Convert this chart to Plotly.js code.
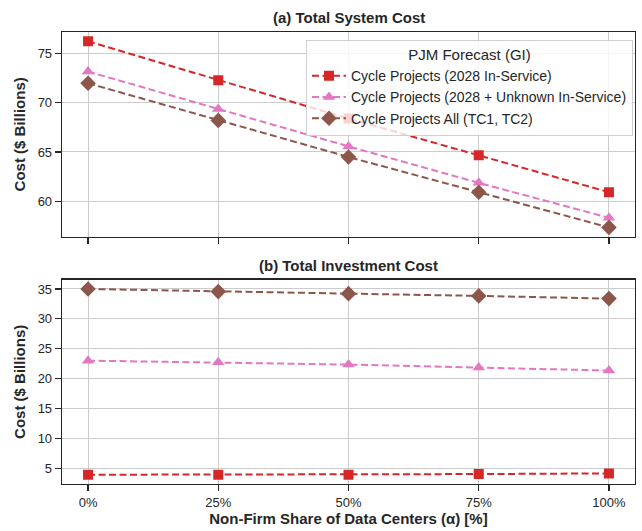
<!DOCTYPE html>
<html>
<head>
<meta charset="utf-8">
<script src="https://cdn.plot.ly/plotly-3.0.1.min.js"></script>
<style>html,body{margin:0;padding:0;background:#fff;}#chart{width:642px;height:531px;}</style>
</head>
<body>
<div id="chart"></div>
<script>
// Data
const alphaShare = [0, 25, 50, 75, 100];
const tickLabels = ["0%", "25%", "50%", "75%", "100%"];
const seriesNames = [
  "Cycle Projects (2028 In-Service)",
  "Cycle Projects (2028 + Unknown In-Service)",
  "Cycle Projects All (TC1, TC2)"
];
const systemCost2028 = [76.25, 72.30, 68.40, 64.66, 60.91];
const systemCost2028Unknown = [73.18, 69.36, 65.57, 61.86, 58.31];
const systemCostAll = [71.99, 68.21, 64.49, 60.91, 57.33];
const investCost2028 = [3.95, 3.95, 3.95, 4.06, 4.17];
const investCost2028Unknown = [23.02, 22.74, 22.36, 21.86, 21.36];
const investCostAll = [35.00, 34.56, 34.22, 33.84, 33.39];

const colors = ["#d62728", "#e377c2", "#8c564b"];
const symbols = ["square", "triangle-up", "diamond"];
const sizes = [10, 11, 12];
const dash = "7px,3.5px";

const topSeries = [systemCost2028, systemCost2028Unknown, systemCostAll];
const botSeries = [investCost2028, investCost2028Unknown, investCostAll];

const traces = [];
topSeries.forEach((ys, i) => {
  traces.push({
    x: alphaShare, y: ys, type: "scatter", mode: "lines+markers",
    name: seriesNames[i], xaxis: "x", yaxis: "y",
    line: {color: colors[i], width: 2, dash: dash},
    marker: {color: colors[i], symbol: symbols[i], size: sizes[i]},
    showlegend: true
  });
});
botSeries.forEach((ys, i) => {
  traces.push({
    x: alphaShare, y: ys, type: "scatter", mode: "lines+markers",
    name: seriesNames[i], xaxis: "x2", yaxis: "y2",
    line: {color: colors[i], width: 2, dash: dash},
    marker: {color: colors[i], symbol: symbols[i], size: sizes[i]},
    showlegend: false
  });
});

const frame = "#262626";
const fontFam = "Liberation Sans, Arial, sans-serif";
const axisCommon = {
  showline: true, mirror: true, linecolor: frame, linewidth: 1.3,
  showgrid: true, gridcolor: "#cccccc", gridwidth: 1,
  zeroline: false, ticks: "outside", ticklen: 6, tickwidth: 1.2, tickcolor: frame,
  tickfont: {family: fontFam, size: 13, color: "#262626"}
};

const layout = {
  width: 642, height: 531,
  margin: {l: 62, r: 7, t: 32, b: 46.5},
  paper_bgcolor: "#ffffff", plot_bgcolor: "#ffffff",
  font: {family: fontFam, color: "#262626"},
  xaxis: Object.assign({}, axisCommon, {
    domain: [0, 1], anchor: "y", range: [-5, 105],
    tickvals: alphaShare, ticktext: tickLabels, showticklabels: false
  }),
  yaxis: Object.assign({}, axisCommon, {
    domain: [0.547, 1], anchor: "x", range: [56.38, 77.2],
    tickvals: [60, 65, 70, 75],
    title: {text: "<b>Cost ($ Billions)</b>", font: {family: fontFam, size: 15, color: "#262626"}, standoff: 8}
  }),
  xaxis2: Object.assign({}, axisCommon, {
    domain: [0, 1], anchor: "y2", range: [-5, 105],
    tickvals: alphaShare, ticktext: tickLabels,
    title: {text: "<b>Non-Firm Share of Data Centers (α) [%]</b>", font: {family: fontFam, size: 15, color: "#262626"}, standoff: 4}
  }),
  yaxis2: Object.assign({}, axisCommon, {
    domain: [0, 0.452], anchor: "x2", range: [2.4, 36.55],
    tickvals: [5, 10, 15, 20, 25, 30, 35],
    title: {text: "<b>Cost ($ Billions)</b>", font: {family: fontFam, size: 15, color: "#262626"}, standoff: 8}
  }),
  legend: {
    x: 0.9965, xanchor: "right", y: 0.983, yanchor: "top",
    bgcolor: "rgba(255,255,255,0.8)", bordercolor: "#d0d0d0", borderwidth: 1,
    font: {family: fontFam, size: 14, color: "#262626"},
    title: {text: "PJM Forecast (GI)", side: "top center", font: {family: fontFam, size: 15, color: "#262626"}},
    tracegroupgap: 0, itemwidth: 34
  },
  annotations: [
    {text: "<b>(a) Total System Cost</b>", xref: "paper", yref: "paper", x: 0.5, y: 1, yanchor: "bottom", yshift: 4, showarrow: false,
     font: {family: fontFam, size: 15, color: "#262626"}},
    {text: "<b>(b) Total Investment Cost</b>", xref: "paper", yref: "paper", x: 0.5, y: 0.452, yanchor: "bottom", yshift: 4, showarrow: false,
     font: {family: fontFam, size: 15, color: "#262626"}}
  ],
  showlegend: true
};

Plotly.newPlot("chart", traces, layout, {staticPlot: true, displayModeBar: false});
</script>
</body>
</html>
